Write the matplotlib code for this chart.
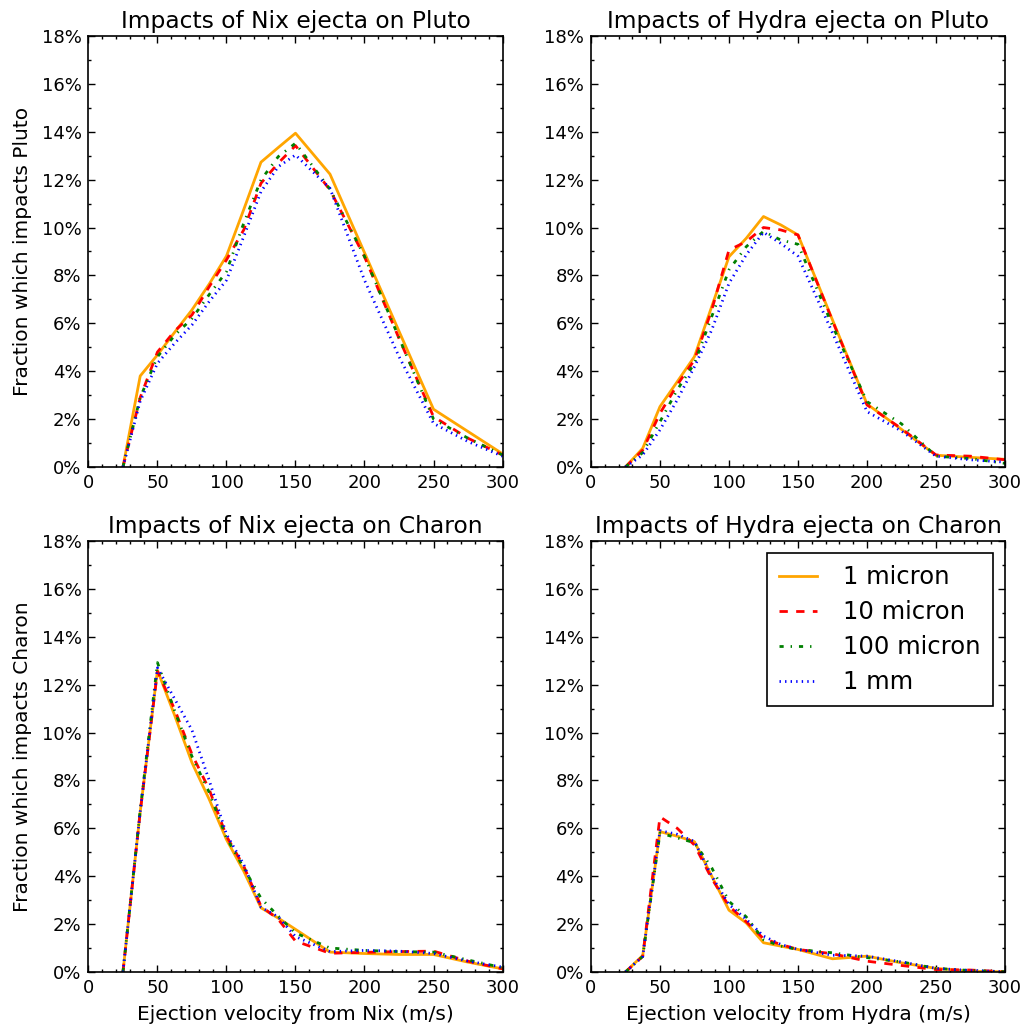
import matplotlib
matplotlib.use("Agg")
import matplotlib.pyplot as plt
from matplotlib.ticker import MultipleLocator, FuncFormatter

velocity = [25, 37.5, 50, 62.5, 75, 87.5, 100, 112.5, 125, 137.5, 150, 175, 200, 225, 250, 275, 300]
sizes = ["1 micron", "10 micron", "100 micron", "1 mm"]

nix_pluto_1um = [0, 3.80, 4.68, 5.63, 6.56, 7.64, 8.81, 10.75, 12.73, 13.34, 13.94, 12.23, 8.95, 5.67, 2.41, 1.48, 0.55]
nix_pluto_10um = [0, 2.9, 4.8, 5.68, 6.35, 7.53, 8.65, 9.9, 11.85, 12.69, 13.42, 11.57, 8.78, 5.37, 2.10, 1.20, 0.50]
nix_pluto_100um = [0, 2.9, 4.6, 5.5, 6.2, 7.2, 8.16, 10.18, 11.99, 12.96, 13.52, 11.6, 8.8, 5.4, 2.0, 1.2, 0.5]
nix_pluto_1mm = [0, 2.75, 4.33, 5.17, 5.93, 6.91, 7.8, 9.62, 11.50, 12.54, 13.03, 11.64, 7.8, 4.61, 1.82, 1.06, 0.45]

hydra_pluto_1um = [0, 0.78, 2.52, 3.56, 4.61, 6.70, 8.78, 9.55, 10.46, 10.11, 9.69, 6.14, 2.63, 1.57, 0.49, 0.40, 0.32]
hydra_pluto_10um = [0, 0.7, 2.24, 3.43, 4.47, 6.56, 9.06, 9.41, 10.0, 9.9, 9.69, 6.1, 2.59, 1.6, 0.5, 0.45, 0.3]
hydra_pluto_100um = [0, 0.6, 1.89, 3.22, 4.33, 6.28, 8.23, 9.20, 9.84, 9.48, 9.3, 5.9, 2.73, 1.8, 0.45, 0.35, 0.15]
hydra_pluto_1mm = [0, 0.5, 1.55, 2.80, 4.19, 5.72, 7.67, 8.86, 9.80, 9.34, 8.8, 5.6, 2.31, 1.5, 0.45, 0.3, 0.2]

nix_charon_1um = [0, 6.69, 12.6, 10.71, 8.74, 7.21, 5.53, 4.21, 2.68, 2.25, 1.78, 0.83, 0.77, 0.73, 0.73, 0.41, 0.13]
nix_charon_10um = [0, 6.69, 12.56, 10.96, 9.09, 7.62, 5.67, 4.42, 2.75, 2.2, 1.29, 0.78, 0.82, 0.85, 0.87, 0.45, 0.13]
nix_charon_100um = [0, 6.75, 12.92, 10.9, 9.0, 7.5, 5.6, 4.35, 3.08, 2.33, 1.63, 1.0, 0.9, 0.85, 0.83, 0.5, 0.18]
nix_charon_1mm = [0, 6.7, 12.7, 11.4, 10.1, 8.0, 5.75, 4.49, 2.7, 2.3, 1.48, 0.85, 0.9, 0.87, 0.77, 0.45, 0.2]

hydra_charon_1um = [0, 0.69, 5.86, 5.67, 5.44, 4.0, 2.58, 2.05, 1.22, 1.08, 0.94, 0.55, 0.66, 0.38, 0.15, 0.03, 0.01]
hydra_charon_10um = [0, 0.65, 6.48, 6.0, 5.3, 3.9, 2.75, 2.1, 1.39, 1.15, 0.94, 0.76, 0.45, 0.27, 0.1, 0.08, 0.01]
hydra_charon_100um = [0, 0.65, 5.8, 5.6, 5.4, 4.35, 2.95, 2.3, 1.35, 1.08, 0.94, 0.8, 0.6, 0.42, 0.15, 0.06, 0.01]
hydra_charon_1mm = [0, 0.65, 5.9, 5.75, 5.45, 4.0, 2.82, 2.2, 1.5, 1.15, 0.94, 0.7, 0.66, 0.42, 0.15, 0.06, 0.01]

panels = [
    ("Impacts of Nix ejecta on Pluto", [nix_pluto_1um, nix_pluto_10um, nix_pluto_100um, nix_pluto_1mm],
     "Fraction which impacts Pluto", None),
    ("Impacts of Hydra ejecta on Pluto", [hydra_pluto_1um, hydra_pluto_10um, hydra_pluto_100um, hydra_pluto_1mm],
     None, None),
    ("Impacts of Nix ejecta on Charon", [nix_charon_1um, nix_charon_10um, nix_charon_100um, nix_charon_1mm],
     "Fraction which impacts Charon", "Ejection velocity from Nix (m/s)"),
    ("Impacts of Hydra ejecta on Charon", [hydra_charon_1um, hydra_charon_10um, hydra_charon_100um, hydra_charon_1mm],
     None, "Ejection velocity from Hydra (m/s)"),
]

colors = ["orange", "red", "green", "blue"]
styles = ["-", (0, (6, 6)), (0, (3, 5, 1, 5)), (0, (1, 3))]

plt.rcParams["font.family"] = ["DejaVu Sans"]
plt.rcParams["lines.scale_dashes"] = False
fig = plt.figure(figsize=(10.31, 10.34), dpi=100)

W = 0.4016
H = 0.4168
positions = [
    (0.0858, 0.5484), (0.5732, 0.5484),
    (0.0858, 0.0600), (0.5732, 0.0600),
]

for i, ((title, series, ylab, xlab), (l, b)) in enumerate(zip(panels, positions)):
    ax = fig.add_axes([l, b, W, H])
    for s, c, ls, lab in zip(series, colors, styles, sizes):
        ax.plot(velocity, s, color=c, linestyle=ls, linewidth=2, label=lab)
    ax.set_xlim(0, 300)
    ax.set_ylim(0, 18)
    ax.xaxis.set_major_locator(MultipleLocator(50))
    ax.xaxis.set_minor_locator(MultipleLocator(10))
    ax.yaxis.set_major_locator(MultipleLocator(2))
    ax.yaxis.set_minor_locator(MultipleLocator(1))
    ax.yaxis.set_major_formatter(FuncFormatter(lambda v, p: f"{v:.0f}%"))
    ax.tick_params(which="both", direction="in", top=True, right=True, labelsize=13, width=1)
    ax.tick_params(which="major", length=5, pad=5)
    ax.tick_params(which="minor", length=2.5)
    for sp in ax.spines.values():
        sp.set_linewidth(1.2)
    ax.set_title(title, fontsize=16.8, pad=6)
    if ylab:
        ax.set_ylabel(ylab, fontsize=14.5, labelpad=7)
    if xlab:
        ax.set_xlabel(xlab, fontsize=14.5, labelpad=6)
    if i == 3:
        leg = ax.legend(loc="upper right", fontsize=17.5, fancybox=False, framealpha=1,
                        edgecolor="black", handlelength=1.56, handletextpad=1.07,
                        borderpad=0.5, labelspacing=0.45, borderaxespad=0.5)
        leg.get_frame().set_linewidth(1.2)

fig.savefig("out.png", dpi=100)
